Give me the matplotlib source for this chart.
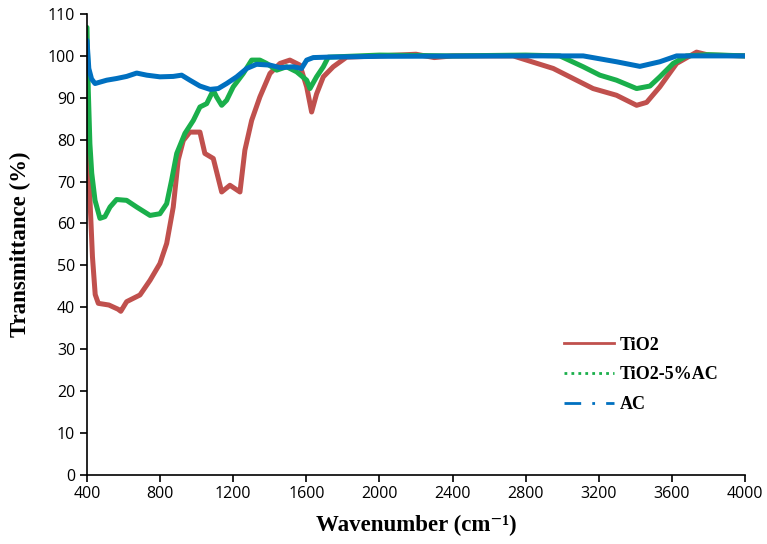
import numpy as np
import matplotlib.pyplot as plt
from matplotlib.lines import Line2D

# TiO2
wn_tio2 = [400, 405, 416, 430, 445, 462, 520, 570, 585, 617, 690, 745, 799, 836, 872, 899,
           927, 963, 1018, 1045, 1091, 1137, 1182, 1237, 1264, 1301, 1346, 1401, 1456,
           1510, 1565, 1602, 1629, 1656, 1693, 1747, 1820, 2000, 2200, 2300, 2400, 2732,
           2841, 2951, 3060, 3169, 3297, 3407, 3462, 3534, 3626, 3735, 3800, 4000]
t_tio2 = [80.6, 75, 66, 52, 43, 40.9, 40.5, 39.5, 39.0, 41.3, 42.9, 46.4, 50.4, 55.2, 63.9,
          75.1, 79.8, 81.8, 81.8, 76.7, 75.5, 67.5, 69.1, 67.5, 77.5, 84.6, 90.2, 95.8,
          98.2, 99.0, 97.8, 92.6, 86.6, 90.9, 95, 97.4, 99.7, 100, 100.4, 99.6, 100, 100,
          98.5, 97, 94.6, 92.2, 90.6, 88.2, 88.9, 92.6, 98.2, 100.9, 100.2, 100]

# TiO2-5%AC
wn_mix = [400, 407, 416, 426, 444, 471, 498, 526, 562, 617, 672, 745, 799, 836, 863, 891,
          936, 982, 1018, 1055, 1091, 1109, 1137, 1164, 1200, 1255, 1301, 1346, 1383,
          1438, 1492, 1547, 1602, 1620, 1656, 1693, 1720, 2000, 2400, 2800, 2987, 3115,
          3206, 3297, 3407, 3480, 3534, 3607, 3680, 3800, 4000]
t_mix = [106.8, 92, 79, 72, 65.5, 61.2, 61.6, 63.9, 65.7, 65.5, 63.9, 61.9, 62.3, 64.7,
         70.3, 76.7, 81.5, 84.6, 87.8, 88.6, 91.8, 90.2, 88.2, 89.4, 92.6, 95.8, 99.0,
         99.0, 98.2, 96.6, 97.4, 96.2, 94.2, 92.2, 95, 97.4, 99.7, 100.2, 100, 100.2,
         100, 97.4, 95.4, 94.2, 92.2, 92.8, 95, 98.2, 100, 100.3, 100]

# AC
wn_ac = [400, 410, 425, 444, 508, 562, 617, 672, 727, 799, 872, 918, 963, 1018, 1073,
         1118, 1164, 1219, 1274, 1328, 1401, 1456, 1529, 1574, 1602, 1638, 1711, 2000,
         2800, 3115, 3297, 3425, 3534, 3626, 3800, 4000]
t_ac = [103.7, 97, 94.5, 93.4, 94.2, 94.6, 95.1, 95.9, 95.4, 95, 95.1, 95.4, 94.2, 92.8,
        92, 92.2, 93.4, 95, 97, 98, 97.8, 97.2, 97.4, 97, 99, 99.6, 99.7, 99.9, 100,
        100, 98.6, 97.5, 98.6, 100, 100, 100]

labels = ['TiO2', 'TiO2-5%AC', 'AC']
colors = ['#C0504D', '#1AAF4B', '#0070C0']

fig = plt.figure(figsize=(7.67, 5.44), dpi=100)
ax = fig.add_axes([0.1134, 0.1276, 0.8579, 0.8466])

series = [(wn_tio2, t_tio2), (wn_mix, t_mix), (wn_ac, t_ac)]
for (x, y), c in zip(series, colors):
    ax.plot(x, y, color=c, lw=3.6, solid_capstyle='round', solid_joinstyle='round')

ax.set_xlim(400, 4000)
ax.set_ylim(0, 110)
ax.set_xticks(np.arange(400, 4001, 400))
ax.set_yticks(np.arange(0, 111, 10))
for s in ['top', 'right']:
    ax.spines[s].set_visible(False)
for s in ['left', 'bottom']:
    ax.spines[s].set_linewidth(1.2)
ax.tick_params(direction='out', length=5, width=1.2, labelsize=11.5)
for lab in ax.get_xticklabels() + ax.get_yticklabels():
    lab.set_family(['Open Sans', 'DejaVu Sans'])

ax.set_xlabel('Wavenumber (cm\u207b\u00b9)', family=['Liberation Serif', 'DejaVu Serif'],
              fontweight='bold', fontsize=16.5, labelpad=9)
ax.set_ylabel('Transmittance (%)', family='Liberation Serif',
              fontweight='bold', fontsize=16.5, labelpad=12)

handles = [Line2D([], [], color=colors[0], lw=2, ls='-'),
           Line2D([], [], color=colors[1], lw=2, ls=(0, (1, 1.5))),
           Line2D([], [], color=colors[2], lw=2, ls=(0, (6, 4, 1, 4)))]
ax.legend(handles, labels, loc='upper left', bbox_to_anchor=(0.70, 0.335),
          frameon=False, prop={'family': 'Liberation Serif', 'weight': 'bold', 'size': 13},
          handlelength=2.8, handletextpad=0.3, labelspacing=0.7)

fig.savefig('out.png', dpi=100)
